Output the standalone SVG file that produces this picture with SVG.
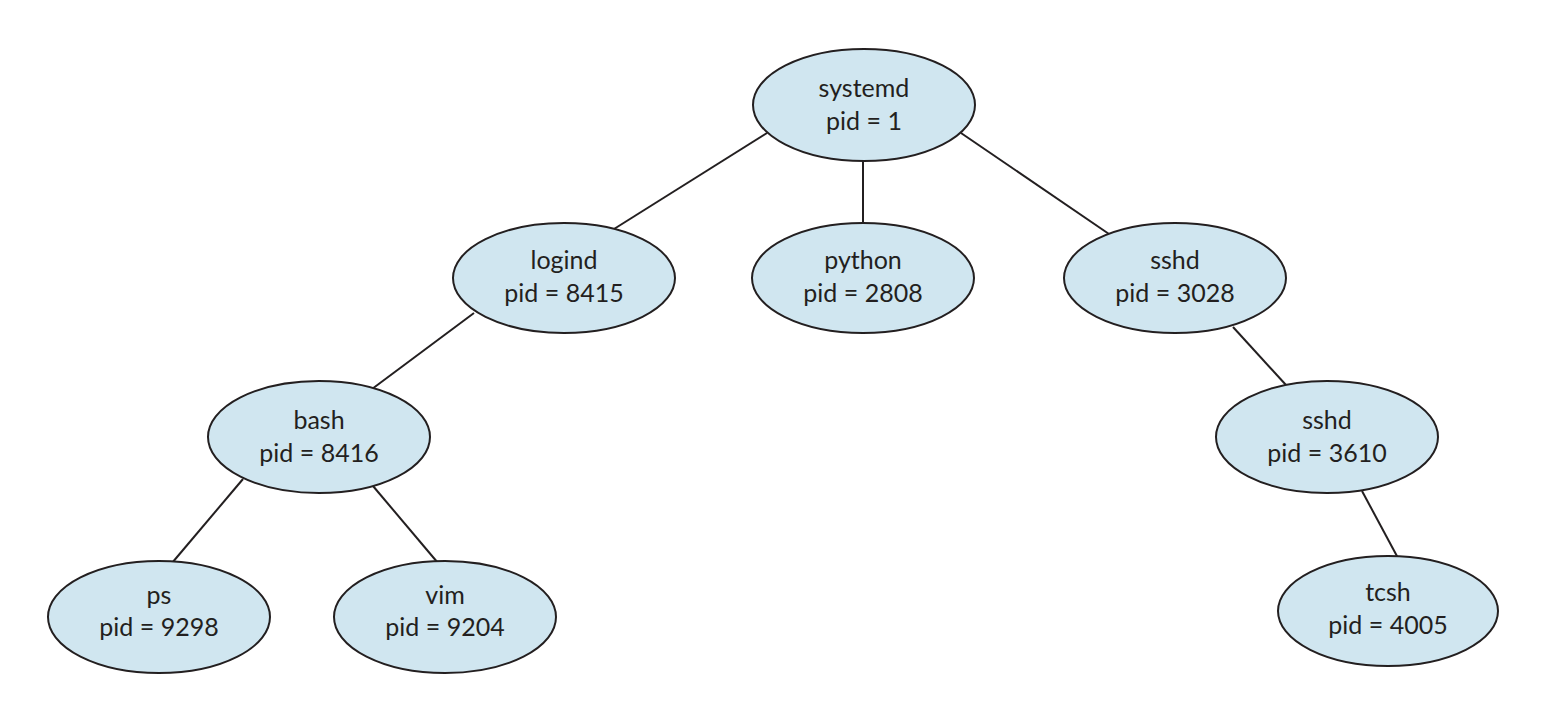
<svg xmlns="http://www.w3.org/2000/svg" width="1542" height="708" viewBox="0 0 1542 708">
<style>
.node ellipse{fill:#d0e6f0;stroke:#231f20;stroke-width:2}
.node text{font-family:"Lato","Liberation Sans",sans-serif;font-size:25px;fill:#231f20;text-anchor:middle}
#edges line{stroke:#231f20;stroke-width:2}
</style>
<rect width="1542" height="708" fill="#ffffff"/>
<g id="edges">
<line x1="767" y1="133" x2="614" y2="229"/>
<line x1="863" y1="160" x2="863" y2="223"/>
<line x1="961" y1="133" x2="1109" y2="234"/>
<line x1="474" y1="313" x2="372" y2="389"/>
<line x1="1233" y1="327" x2="1286" y2="385"/>
<line x1="243" y1="479" x2="172" y2="563"/>
<line x1="373" y1="486" x2="438" y2="563"/>
<line x1="1362" y1="491" x2="1398" y2="558"/>
</g>
<g id="systemd" class="node"><ellipse cx="864" cy="105" rx="111" ry="56"/><text x="864" y="97">systemd</text><text x="864" y="130">pid = 1</text></g>
<g id="logind" class="node"><ellipse cx="564" cy="278" rx="111" ry="55"/><text x="564" y="269">logind</text><text x="564" y="302">pid = 8415</text></g>
<g id="python" class="node"><ellipse cx="863" cy="278" rx="111" ry="55"/><text x="863" y="269">python</text><text x="863" y="302">pid = 2808</text></g>
<g id="sshd" class="node"><ellipse cx="1175" cy="278" rx="111" ry="55"/><text x="1175" y="269">sshd</text><text x="1175" y="302">pid = 3028</text></g>
<g id="bash" class="node"><ellipse cx="319" cy="437" rx="111" ry="56"/><text x="319" y="429">bash</text><text x="319" y="462">pid = 8416</text></g>
<g id="sshd2" class="node"><ellipse cx="1327" cy="437" rx="111" ry="56"/><text x="1327" y="429">sshd</text><text x="1327" y="462">pid = 3610</text></g>
<g id="ps" class="node"><ellipse cx="159" cy="617" rx="111" ry="56"/><text x="159" y="604">ps</text><text x="159" y="636">pid = 9298</text></g>
<g id="vim" class="node"><ellipse cx="445" cy="617" rx="111" ry="56"/><text x="445" y="604">vim</text><text x="445" y="636">pid = 9204</text></g>
<g id="tcsh" class="node"><ellipse cx="1388" cy="611" rx="110" ry="55"/><text x="1388" y="601">tcsh</text><text x="1388" y="634">pid = 4005</text></g>
</svg>
